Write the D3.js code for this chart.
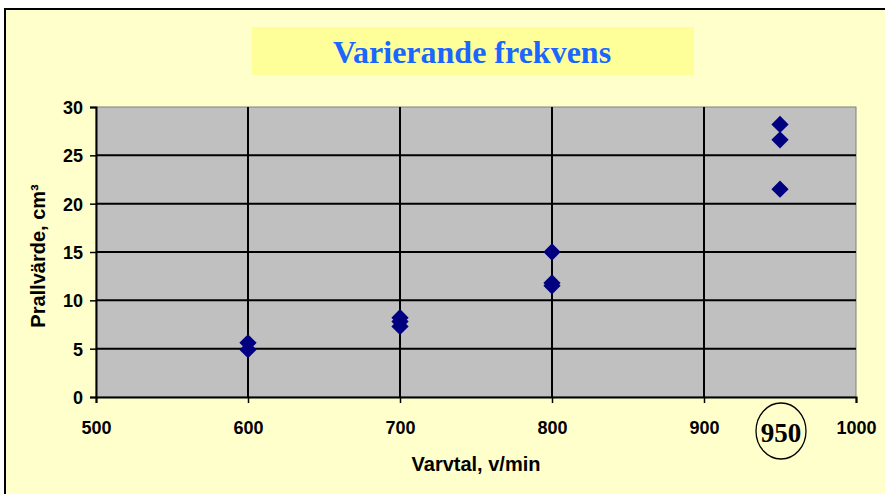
<!DOCTYPE html>
<html>
<head>
<meta charset="utf-8">
<script src="https://cdn.jsdelivr.net/npm/d3@7"></script>
<style>
  html, body { margin: 0; padding: 0; background: #fff; }
  svg { display: block; }
</style>
</head>
<body>
<svg id="chart"></svg>
<script>
// data
const rpm = [600, 600, 700, 700, 700, 800, 800, 800, 950, 950, 950]
const prall = [5.6, 4.9, 8.2, 7.8, 7.3, 15.0, 11.8, 11.5, 28.2, 26.6, 21.5]
const xTicks = [500, 600, 700, 800, 900, 1000]
const yTicks = [0, 5, 10, 15, 20, 25, 30]
const marked = 950

const W = 885, H = 494
const sans = 'Liberation Sans, Arial, sans-serif'
const serif = 'Liberation Serif, Times New Roman, serif'
const svg = d3.select('#chart').attr('width', W).attr('height', H)

// chart background + frame
svg.append('rect').attr('x', 0).attr('y', 0).attr('width', W).attr('height', H).attr('fill', '#fff')
svg.append('rect').attr('x', 5).attr('y', 9).attr('width', W + 10).attr('height', H + 10)
  .attr('fill', '#ffffcc').attr('stroke', '#000').attr('stroke-width', 2)

// title
svg.append('rect').attr('x', 252).attr('y', 27).attr('width', 442).attr('height', 48).attr('fill', '#ffff99')
svg.append('text').attr('x', 472).attr('y', 63)
  .attr('text-anchor', 'middle')
  .attr('font-family', serif)
  .attr('font-weight', 'bold').attr('font-size', '32px')
  .attr('fill', '#1a66ff')
  .text('Varierande frekvens')

const x = d3.scaleLinear().domain([500, 1000]).range([96, 856])
const y = d3.scaleLinear().domain([0, 30]).range([397, 107])

const g = svg.append('g')

g.append('rect')
  .attr('x', x(500)).attr('y', y(30))
  .attr('width', x(1000) - x(500)).attr('height', y(0) - y(30))
  .attr('fill', '#c0c0c0').attr('stroke', '#808080').attr('stroke-width', 1)

// grid
g.selectAll('.hgrid').data(yTicks.filter(d => d > 0 && d < 30)).join('line')
  .attr('x1', x(500)).attr('x2', x(1000))
  .attr('y1', d => y(d)).attr('y2', d => y(d))
  .attr('stroke', '#000').attr('stroke-width', 2)
g.selectAll('.vgrid').data(xTicks.filter(d => d > 500 && d < 1000)).join('line')
  .attr('x1', d => x(d)).attr('x2', d => x(d))
  .attr('y1', y(30)).attr('y2', y(0))
  .attr('stroke', '#000').attr('stroke-width', 2)

// axes
const xAxis = g.append('g').attr('transform', `translate(0,${y(0)})`)
  .call(d3.axisBottom(x).tickValues(xTicks).tickSize(6).tickPadding(18).tickFormat(d3.format('d')))
const yAxis = g.append('g').attr('transform', `translate(${x(500)},0)`)
  .call(d3.axisLeft(y).tickValues(yTicks).tickSize(6).tickPadding(7))

;[xAxis, yAxis].forEach(a => {
  a.select('.domain').attr('stroke', '#000').attr('stroke-width', 2)
  a.selectAll('.tick line').attr('stroke', '#000').attr('stroke-width', 1.5)
  a.selectAll('.tick text')
    .attr('font-family', sans)
    .attr('font-weight', 'bold').attr('font-size', '18px').attr('fill', '#000')
})
yAxis.selectAll('.tick text').attr('dy', '0.36em')

// points
const diamond = d3.symbol().type(d3.symbolDiamond2).size(190)
g.selectAll('.pt').data(rpm.map((r, i) => [r, prall[i]])).join('path')
  .attr('d', diamond)
  .attr('transform', d => `translate(${x(d[0])},${y(d[1])})`)
  .attr('fill', '#000080')

// 950 annotation
svg.append('ellipse').attr('cx', x(marked) + 1).attr('cy', 431).attr('rx', 25).attr('ry', 28)
  .attr('fill', 'none').attr('stroke', '#000').attr('stroke-width', 1.3)
svg.append('text').attr('x', x(marked) + 1).attr('y', 442)
  .attr('text-anchor', 'middle')
  .attr('font-family', serif)
  .attr('font-weight', 'bold').attr('font-size', '27px')
  .text(marked)

// axis titles
svg.append('text').attr('x', 476).attr('y', 471)
  .attr('text-anchor', 'middle')
  .attr('font-family', sans)
  .attr('font-weight', 'bold').attr('font-size', '20px')
  .text('Varvtal, v/min')
svg.append('text')
  .attr('transform', 'translate(45,256) rotate(-90)')
  .attr('text-anchor', 'middle')
  .attr('font-family', sans)
  .attr('font-weight', 'bold').attr('font-size', '20px')
  .text('Prallvärde, cm³')
</script>
</body>
</html>
